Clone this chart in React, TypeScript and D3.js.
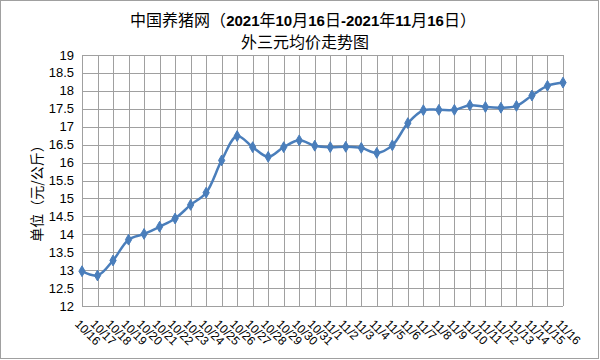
import React from "react";
import * as d3 from "d3";

const dates = [
  "10/16","10/17","10/18","10/19","10/20","10/21","10/22","10/23","10/24","10/25","10/26","10/27","10/28","10/29","10/30","10/31",
  "11/1","11/2","11/3","11/4","11/5","11/6","11/7","11/8","11/9","11/10","11/11","11/12","11/13","11/14","11/15","11/16",
];
const prices = [
  12.97, 12.85, 13.27, 13.85, 14.01, 14.21, 14.44, 14.82, 15.16, 16.06, 16.74, 16.43, 16.16, 16.43, 16.62, 16.47,
  16.43, 16.44, 16.41, 16.27, 16.48, 17.10, 17.46, 17.47, 17.47, 17.60, 17.55, 17.53, 17.58, 17.87, 18.14, 18.23,
];
const yTicks = [12, 12.5, 13, 13.5, 14, 14.5, 15, 15.5, 16, 16.5, 17, 17.5, 18, 18.5, 19];

const cjk = "'Noto Sans CJK SC', sans-serif";
const latin = "'Liberation Sans', Arial, sans-serif";

export default function App() {
  const W = 600, H = 360;
  const left = 82, right = 563, top = 55, bottom = 306;
  const x = d3.scalePoint<string>().domain(dates).range([left, right]);
  const y = d3.scaleLinear().domain([12, 19]).range([bottom, top]);
  const line = d3
    .line<number>()
    .x((_, i) => x(dates[i])!)
    .y((d) => y(d))
    .curve(d3.curveCatmullRom.alpha(0.5));
  const blue = "#4A7EBB";
  const grid = "#A0A0A0";
  const diamond = d3.symbol().type(d3.symbolDiamond).size(34)()!;

  const digitStyle = { fontFamily: latin, fontWeight: 700, fontSize: 15 };
  return (
    <svg width={W} height={H} style={{ position: "absolute", left: 0, top: 0, background: "#fff" }}>
      <rect x={0.5} y={0.5} width={598} height={358} fill="#fff" stroke="#A0A0A0" />
      <text x={303} y={26} textAnchor="middle" fontFamily={cjk} fontSize={16} fill="#000">
        <tspan>中国养猪网（</tspan>
        <tspan style={digitStyle}>2021</tspan>
        <tspan>年</tspan>
        <tspan style={digitStyle}>10</tspan>
        <tspan>月</tspan>
        <tspan style={digitStyle}>16</tspan>
        <tspan>日</tspan>
        <tspan style={digitStyle}>-2021</tspan>
        <tspan>年</tspan>
        <tspan style={digitStyle}>11</tspan>
        <tspan>月</tspan>
        <tspan style={digitStyle}>16</tspan>
        <tspan>日）</tspan>
      </text>
      <text x={305} y={48} textAnchor="middle" fontFamily={cjk} fontSize={16} fill="#000">
        外三元均价走势图
      </text>
      {yTicks.map((t) => (
        <line key={"h" + t} x1={left} x2={right} y1={Math.round(y(t)) + 0.5} y2={Math.round(y(t)) + 0.5} stroke={grid} strokeWidth={1} />
      ))}
      {dates.map((d) => (
        <line key={"v" + d} x1={Math.round(x(d)!) + 0.5} x2={Math.round(x(d)!) + 0.5} y1={top} y2={bottom} stroke={grid} strokeWidth={1} />
      ))}
      {yTicks.map((t) => (
        <text key={"yl" + t} x={74} y={y(t)} dy="0.35em" textAnchor="end" fontFamily={latin} fontSize={13} fill="#000">
          {t}
        </text>
      ))}
      <text
        transform={`translate(36,${190}) rotate(-90)`}
        textAnchor="middle"
        dominantBaseline="central"
        fontFamily={cjk}
        fontSize={14}
        fill="#000"
      >
        单位（元/公斤）
      </text>
      {dates.map((d) => (
        <text
          key={"xl" + d}
          transform={`translate(${x(d)! - 5},${322}) rotate(45)`}
          dominantBaseline="central"
          fontFamily={latin}
          fontSize={12}
          fill="#000"
        >
          {d}
        </text>
      ))}
      <path d={line(prices)!} fill="none" stroke={blue} strokeWidth={2.5} />
      {prices.map((p, i) => (
        <path key={"m" + i} d={diamond} transform={`translate(${x(dates[i])},${y(p)})`} fill={blue} stroke={blue} strokeWidth={1} />
      ))}
    </svg>
  );
}
